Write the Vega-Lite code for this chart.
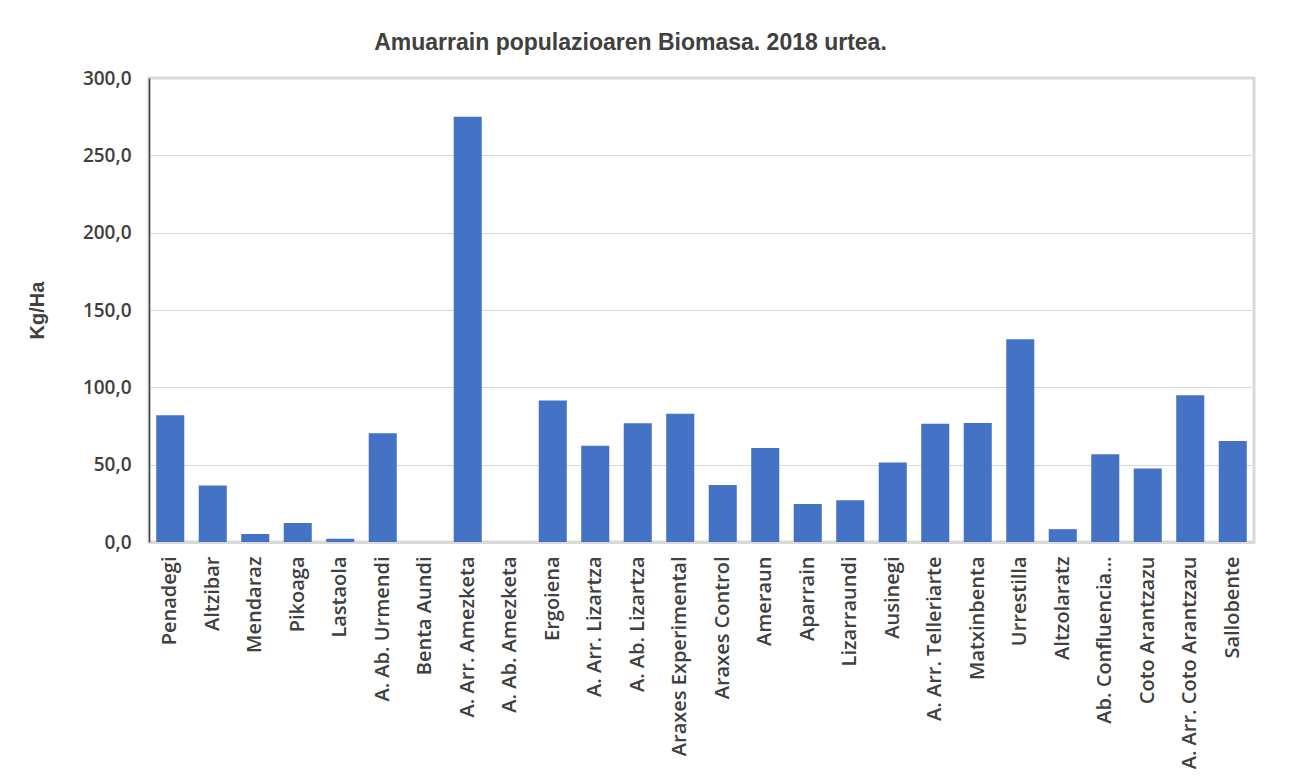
{
  "$schema": "https://vega.github.io/schema/vega-lite/v6.json",
  "width": 1105,
  "height": 464,
  "autosize": {"type": "none"},
  "padding": {"left": 149, "top": 78, "right": 48, "bottom": 240},
  "background": "white",
  "title": {
    "text": "Amuarrain populazioaren Biomasa. 2018 urtea.",
    "font": "Liberation Sans",
    "fontSize": 23,
    "fontWeight": "bold",
    "color": "#404040",
    "anchor": "middle",
    "dx": -71,
    "offset": 14
  },
  "config": {
    "view": {"stroke": "#d9d9d9", "strokeWidth": 3},
    "font": "Open Sans"
  },
  "data": {
    "values": [
      {"site": "Penadegi", "value": 81.9},
      {"site": "Altzibar", "value": 36.5},
      {"site": "Mendaraz", "value": 5.2},
      {"site": "Pikoaga", "value": 12.3},
      {"site": "Lastaola", "value": 2.1},
      {"site": "A. Ab. Urmendi", "value": 70.3},
      {"site": "Benta Aundi", "value": 0},
      {"site": "A. Arr. Amezketa", "value": 275.0},
      {"site": "A. Ab. Amezketa", "value": 0},
      {"site": "Ergoiena", "value": 91.5},
      {"site": "A. Arr. Lizartza", "value": 62.3},
      {"site": "A. Ab. Lizartza", "value": 76.8},
      {"site": "Araxes Experimental", "value": 83.0},
      {"site": "Araxes Control", "value": 36.9},
      {"site": "Ameraun", "value": 60.8},
      {"site": "Aparrain", "value": 24.6},
      {"site": "Lizarraundi", "value": 27.0},
      {"site": "Ausinegi", "value": 51.4},
      {"site": "A. Arr. Telleriarte", "value": 76.4},
      {"site": "Matxinbenta", "value": 77.0},
      {"site": "Urrestilla", "value": 131.1},
      {"site": "Altzolaratz", "value": 8.3},
      {"site": "Ab. Confluencia…", "value": 56.7},
      {"site": "Coto Arantzazu", "value": 47.5},
      {"site": "A. Arr. Coto Arantzazu", "value": 94.9},
      {"site": "Sallobente", "value": 65.3}
    ]
  },
  "mark": {"type": "bar", "color": "#4472c4", "stroke": null},
  "encoding": {
    "x": {
      "field": "site",
      "type": "nominal",
      "sort": null,
      "scale": {"paddingInner": 0.34, "paddingOuter": 0.17},
      "axis": {
        "title": null,
        "labelAngle": -90,
        "labelFont": "Open Sans",
        "labelFontSize": 20,
        "labelFontWeight": 600,
        "labelColor": "#404040",
        "labelPadding": 14,
        "labelLimit": 300,
        "ticks": false,
        "domainColor": "#d9d9d9",
        "domainWidth": 3
      }
    },
    "y": {
      "field": "value",
      "type": "quantitative",
      "scale": {"domain": [0, 300], "nice": false},
      "axis": {
        "title": "Kg/Ha",
        "titleFont": "Liberation Sans",
        "titleFontSize": 20,
        "titleFontWeight": "bold",
        "titleColor": "#404040",
        "titlePadding": 35,
        "values": [0, 50, 100, 150, 200, 250, 300],
        "labelExpr": "replace(format(datum.value, '.1f'), '.', ',')",
        "labelFont": "Open Sans",
        "labelFontSize": 19,
        "labelFontWeight": 600,
        "labelColor": "#404040",
        "labelPadding": 18,
        "ticks": false,
        "domainColor": "#404040",
        "domainWidth": 1.5,
        "gridColor": "#d9d9d9",
        "gridWidth": 1
      }
    }
  }
}
